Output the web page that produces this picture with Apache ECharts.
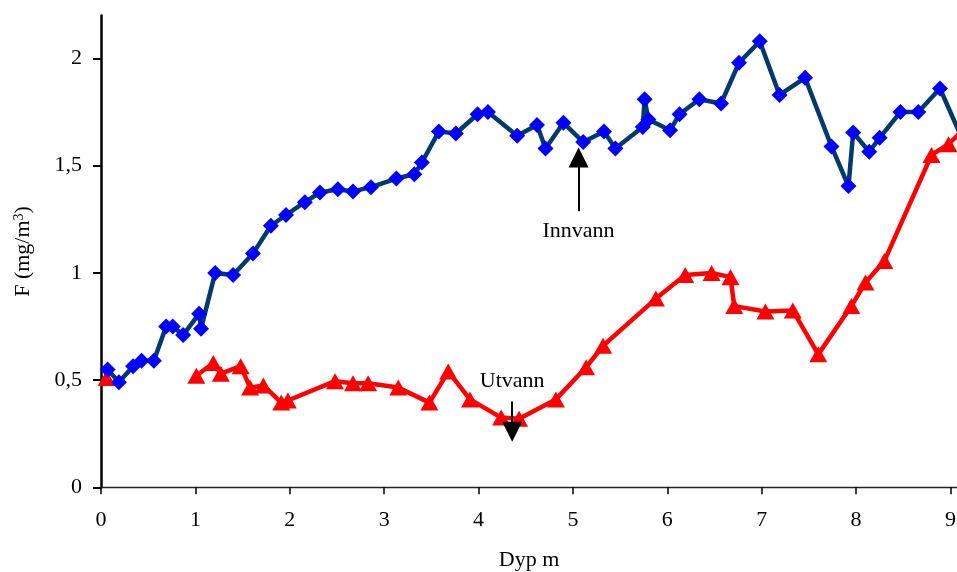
<!DOCTYPE html>
<html>
<head>
<meta charset="utf-8">
<script src="https://cdn.jsdelivr.net/npm/echarts@6/dist/echarts.min.js"></script>
<style>
html,body{margin:0;padding:0;background:#fff;}
#chart{width:957px;height:572px;}
</style>
</head>
<body>
<div id="chart"></div>
<script>
// Innvann (blue diamonds)
const innvannX = [0.07,0.19,0.34,0.43,0.56,0.69,0.76,0.87,1.04,1.06,1.21,1.40,1.61,1.80,1.96,2.16,2.32,2.51,2.67,2.86,3.13,3.32,3.40,3.58,3.76,3.99,4.10,4.41,4.62,4.71,4.90,5.11,5.33,5.45,5.74,5.76,5.80,6.03,6.13,6.34,6.57,6.76,6.98,7.19,7.46,7.74,7.92,7.97,8.14,8.25,8.47,8.66,8.89,9.12];
const innvannY = [0.55,0.49,0.565,0.59,0.59,0.75,0.75,0.71,0.81,0.74,1.00,0.99,1.09,1.22,1.27,1.33,1.375,1.39,1.38,1.40,1.44,1.46,1.515,1.66,1.65,1.74,1.75,1.64,1.69,1.58,1.70,1.61,1.66,1.58,1.68,1.81,1.715,1.665,1.74,1.81,1.79,1.98,2.08,1.83,1.91,1.59,1.405,1.655,1.565,1.63,1.75,1.75,1.86,1.63];
// Utvann (red triangles); null = gap in the line
const utvannX = [0.06,0.5,1.01,1.19,1.27,1.48,1.58,1.72,1.91,1.98,2.48,2.67,2.83,3.15,3.48,3.68,3.91,4.24,4.43,4.82,5.14,5.32,5.88,6.19,6.47,6.67,6.71,7.04,7.33,7.60,7.95,8.10,8.30,8.80,8.98,9.12];
const utvannY = [0.51,null,0.52,0.58,0.53,0.565,0.465,0.475,0.395,0.405,0.495,0.485,0.485,0.465,0.395,0.54,0.41,0.325,0.32,0.41,0.56,0.66,0.88,0.99,1.00,0.98,0.845,0.82,0.825,0.62,0.845,0.955,1.055,1.55,1.60,1.66];
// tick labels
const xTicks = [0,1,2,3,4,5,6,7,8,9];
const yTicks = [0,0.5,1,1.5,2];
// annotations
const innvannArrow = {x:5.06, y0:1.287, y1:1.538, yText:1.193, text:'Innvann'};
const utvannArrow = {x:4.357, y0:0.40, y1:0.259, yText:0.494, text:'Utvann'};

const FONT = 'Liberation Serif';
const chart = echarts.init(document.getElementById('chart'), null, {renderer:'canvas'});

function arrowMarks(a){
  return {
    markLine: {
      silent:true,
      animation:false,
      symbol:['none','triangle'],
      symbolSize:20,
      label:{show:false},
      lineStyle:{color:'#000',width:2,type:'solid'},
      itemStyle:{color:'#000'},
      emphasis:{disabled:true},
      data:[[{coord:[a.x,a.y0]},{coord:[a.x,a.y1]}]]
    },
    markPoint: {
      silent:true,
      animation:false,
      symbol:'rect',
      symbolSize:1,
      itemStyle:{color:'rgba(0,0,0,0)'},
      label:{show:true,position:'inside',formatter:a.text,color:'#000',fontFamily:FONT,fontSize:22},
      data:[{coord:[a.x,a.yText]}]
    }
  };
}

const option = {
  animation:false,
  backgroundColor:'#fff',
  grid:{left:101,right:0,top:15.6,bottom:84.7,containLabel:false,outerBoundsMode:'none'},
  xAxis:{
    type:'value',min:0,max:9.07,interval:1,
    name:'Dyp m',nameLocation:'middle',nameGap:62,
    nameTextStyle:{fontFamily:FONT,fontSize:22,color:'#000'},
    axisLine:{show:true,onZero:false,lineStyle:{color:'#222',width:1.3}},
    axisTick:{show:true,length:7,lineStyle:{color:'#000',width:1.5},customValues:xTicks},
    axisLabel:{fontFamily:FONT,fontSize:22,color:'#000',margin:22,customValues:xTicks},
    splitLine:{show:false}
  },
  yAxis:{
    type:'value',min:0,max:2.2,interval:0.5,
    name:'F (mg/m{sup|3})',nameLocation:'middle',nameGap:67,nameRotate:90,
    nameTextStyle:{fontFamily:FONT,fontSize:22,color:'#000',
      rich:{sup:{fontFamily:FONT,fontSize:14,color:'#000',verticalAlign:'top',lineHeight:14,padding:[0,0,10,0]}}},
    axisLine:{show:true,onZero:false,lineStyle:{color:'#000',width:2.5}},
    axisTick:{show:true,length:8,lineStyle:{color:'#000',width:2},customValues:yTicks},
    axisLabel:{fontFamily:FONT,fontSize:22,color:'#000',margin:19,customValues:yTicks,
      formatter:v=>String(v).replace('.',',')},
    splitLine:{show:false}
  },
  series:[
    Object.assign({
      name:'Utvann',type:'line',
      data:utvannX.map((x,i)=> utvannY[i]===null ? [x,'-'] : [x,utvannY[i]]),
      connectNulls:false,
      symbol:'triangle',symbolSize:[18,16],showAllSymbol:true,
      itemStyle:{color:'#FF0000'},
      lineStyle:{color:'#FF0000',width:4.5},
      clip:true,z:2
    }, arrowMarks(utvannArrow)),
    Object.assign({
      name:'Innvann',type:'line',
      data:innvannX.map((x,i)=>[x,innvannY[i]]),
      symbol:'diamond',symbolSize:16,showAllSymbol:true,
      itemStyle:{color:'#0000FF'},
      lineStyle:{color:'#003A6B',width:4.5},
      clip:true,z:3
    }, arrowMarks(innvannArrow))
  ]
};
chart.setOption(option);
</script>
</body>
</html>
